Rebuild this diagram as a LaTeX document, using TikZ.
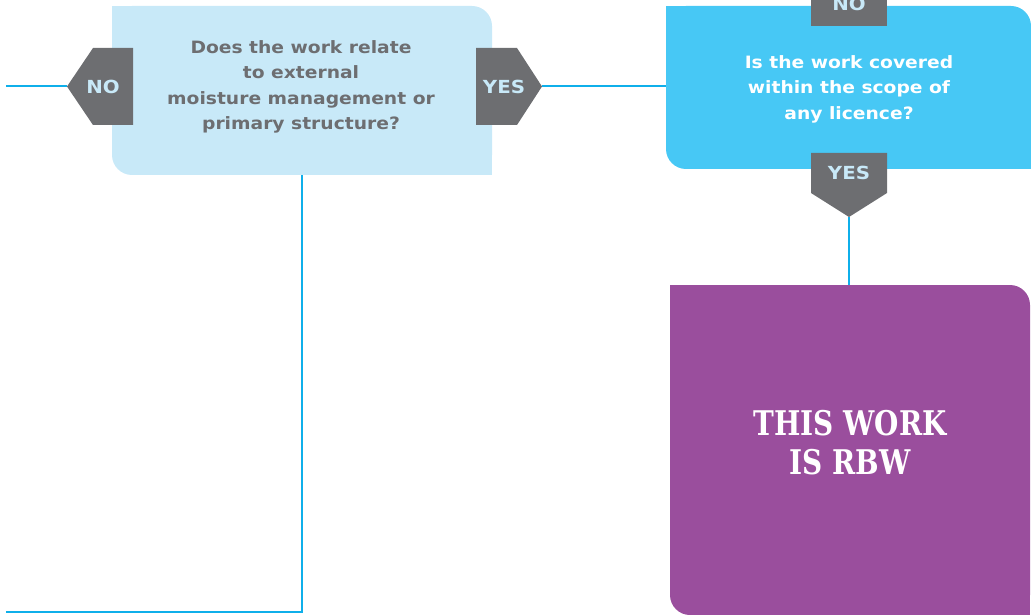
\documentclass[tikz,border=0pt]{standalone}
\usepackage{fontspec}
\setmainfont{DejaVu Sans}
\newfontfamily\widesans{DejaVu Sans}[FakeStretch=1.1]
\newfontfamily\slabfont{DejaVu Serif}[FakeStretch=0.82]
\usetikzlibrary{positioning}

\definecolor{qlight}{HTML}{C8E9F8}
\definecolor{qblue}{HTML}{47C8F5}
\definecolor{taggray}{HTML}{6D6E71}
\definecolor{tagtext}{HTML}{C8E9F8}
\definecolor{rbwpurple}{HTML}{9A4E9D}
\definecolor{linkblue}{HTML}{0FAFEA}

\tikzset{
  qbox/.style={rounded corners=20pt, align=center, inner sep=0pt,
    font=\widesans\bfseries\fontsize{17}{25.5}\selectfont},
  tag/.style={fill=taggray},
  taglabel/.style={text=tagtext, inner sep=0pt, font=\widesans\bfseries\fontsize{18}{18}\selectfont},
  link/.style={draw=linkblue, line width=2pt}
}

\begin{document}
\begin{tikzpicture}[x=1pt,y=-1pt]
\useasboundingbox (0,0) rectangle (1031,615);

% first question
\node[qbox, fill=qlight, minimum width=380pt, minimum height=169pt] (q1) at (302,90.5) {};
\fill[qlight] (q1.north west) rectangle ++(30,30);
\fill[qlight] (q1.south east) rectangle ++(-30,-30);
\node[qbox, text=taggray] (q1txt) at (301,87) {Does the work relate\\to external\\moisture management or\\primary structure?};

% second question
\node[qbox, fill=qblue, minimum width=365pt, minimum height=163pt] (q2) at (848.5,87.5) {};
\fill[qblue] (q2.north west) rectangle ++(30,30);
\fill[qblue] (q2.south east) rectangle ++(-30,-30);
\node[qbox, text=white] (q2txt) at (849,89) {Is the work covered\\within the scope of\\any licence?};

% result
\node[rounded corners=20pt, fill=rbwpurple, minimum width=360pt, minimum height=330pt] (rbw) at (850,450) {};
\fill[rbwpurple] (rbw.north west) rectangle ++(30,30);
\fill[rbwpurple] (rbw.south east) rectangle ++(-30,-30);
\node[align=center, text=white, font=\slabfont\bfseries\fontsize{34}{39}\selectfont] (rbwtxt) at (850,443) {THIS WORK\\IS RBW};

% tags
\fill[tag] (133,48) -- (93,48) -- (67,86.5) -- (93,125) -- (133,125) -- cycle;
\node[taglabel] (no1) at (103,86.5) {NO};
\coordinate (no1tip) at (67,86.5);

\fill[tag] (476,48) -- (517,48) -- (542,86.5) -- (517,125) -- (476,125) -- cycle;
\node[taglabel] (yes1) at (504,86.5) {YES};
\coordinate (yes1tip) at (542,86.5);

\fill[tag] (811,-10) rectangle (887,26);
\node[taglabel] (no2) at (849,4) {NO};

\fill[tag] (811,153) -- (887,153) -- (887,193) -- (849,217) -- (811,193) -- cycle;
\node[taglabel] (yes2) at (849,173) {YES};
\coordinate (yes2tip) at (849,217);

% connectors
\coordinate (noout) at (6,86.5);
\coordinate (backout) at (6,612);
\draw[link] (no1tip) -- (noout);
\draw[link] (yes1tip) -- (q2.west |- yes1tip);
\draw[link] (yes2tip) -- (yes2tip |- rbw.north);
\draw[link] (q1.south) |- (backout);
\end{tikzpicture}
\end{document}
